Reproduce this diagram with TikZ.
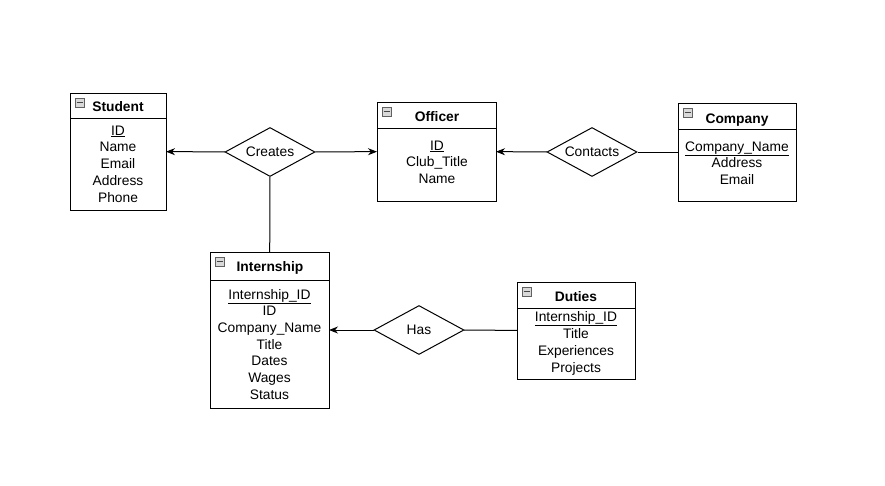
\documentclass[tikz,border=0pt]{standalone}
\usepackage{fontspec}
\setmainfont{Liberation Sans}
\usetikzlibrary{arrows.meta, shapes.geometric}

\begin{document}
\begin{tikzpicture}[
        x=1pt, y=-1pt,
        line width=1pt,
        font=\fontsize{13.8}{16.7}\selectfont,
        entity/.style={draw, rectangle, inner sep=0pt, outer sep=0pt},
        relation/.style={draw, diamond, shape aspect=1.84, inner sep=0pt,
            minimum width=90pt, minimum height=49pt},
        attr/.style={anchor=base, inner sep=0pt},
        title/.style={anchor=base, inner sep=0pt, font=\fontsize{13.8}{16.7}\selectfont\bfseries},
        icon/.style={draw=gray!75!black, fill=gray!30, line width=0.8pt},
        arr/.style={-{Stealth[length=9pt, width=7pt]}}
    ]
    \useasboundingbox (0,0) rectangle (885,485);

    % entities
    \node[entity, minimum width=96pt, minimum height=117pt] (student) at (118,151.5) {};
    \node[entity, minimum width=119pt, minimum height=99pt] (officer) at (436.5,151.5) {};
    \node[entity, minimum width=118pt, minimum height=98pt] (company) at (737,152) {};
    \node[entity, minimum width=119pt, minimum height=156pt] (internship) at (269.5,330) {};
    \node[entity, minimum width=118pt, minimum height=97pt] (duties) at (576,330.5) {};

    \draw ([yshift=-25pt]student.north west) -- ([yshift=-25pt]student.north east);
    \draw ([yshift=-26pt]officer.north west) -- ([yshift=-26pt]officer.north east);
    \draw ([yshift=-26pt]company.north west) -- ([yshift=-26pt]company.north east);
    \draw ([yshift=-28pt]internship.north west) -- ([yshift=-28pt]internship.north east);
    \draw ([yshift=-26pt]duties.north west) -- ([yshift=-26pt]duties.north east);

    \foreach \e in {student, officer, company, internship, duties} {
        \draw[icon] ([shift={(5pt,-5pt)}]\e.north west) rectangle ++(9,9);
        \draw[gray!55!black, line width=0.8pt] ([shift={(6.5pt,-9.5pt)}]\e.north west) -- ++(6,0);
    }

    \node[title] (student-title) at (118,111) {Student};
    \node[title] (officer-title) at (437,121) {Officer};
    \node[title] (company-title) at (737,123) {Company};
    \node[title] (internship-title) at (270,271) {Internship};
    \node[title] (duties-title) at (576,301) {Duties};

    % attributes
    \foreach \a [count=\i from 0] in {\underline{ID},Name,Email,Address,Phone}
        \node[attr] (student-\i) at (118,135+16.75*\i) {\a};
    \foreach \a [count=\i from 0] in {\underline{ID},Club\_Title,Name}
        \node[attr] (officer-\i) at (437,150+16.75*\i) {\a};
    \foreach \a [count=\i from 0] in {\underline{Company\_Name},Address,Email}
        \node[attr] (company-\i) at (737,151+16.75*\i) {\a};
    \foreach \a [count=\i from 0] in {\underline{Internship\_ID},ID,Company\_Name,Title,Dates,Wages,Status}
        \node[attr] (internship-\i) at (269.5,299+16.67*\i) {\a};
    \foreach \a [count=\i from 0] in {\underline{Internship\_ID},Title,Experiences,Projects}
        \node[attr] (duties-\i) at (576,321+17*\i) {\a};

    % relations
    \node[relation] (creates) at (270,152) {Creates};
    \node[relation] (contacts) at (592,152) {Contacts};
    \node[relation] (has) at (419,330) {Has};

    \draw[arr] (creates) -- (student);
    \draw[arr] (creates) -- (officer);
    \draw (creates) -- (internship);
    \draw[arr] (contacts) -- (officer);
    \draw (contacts) -- (company);
    \draw[arr] (has) -- (internship);
    \draw (has) -- (duties);
\end{tikzpicture}
\end{document}
